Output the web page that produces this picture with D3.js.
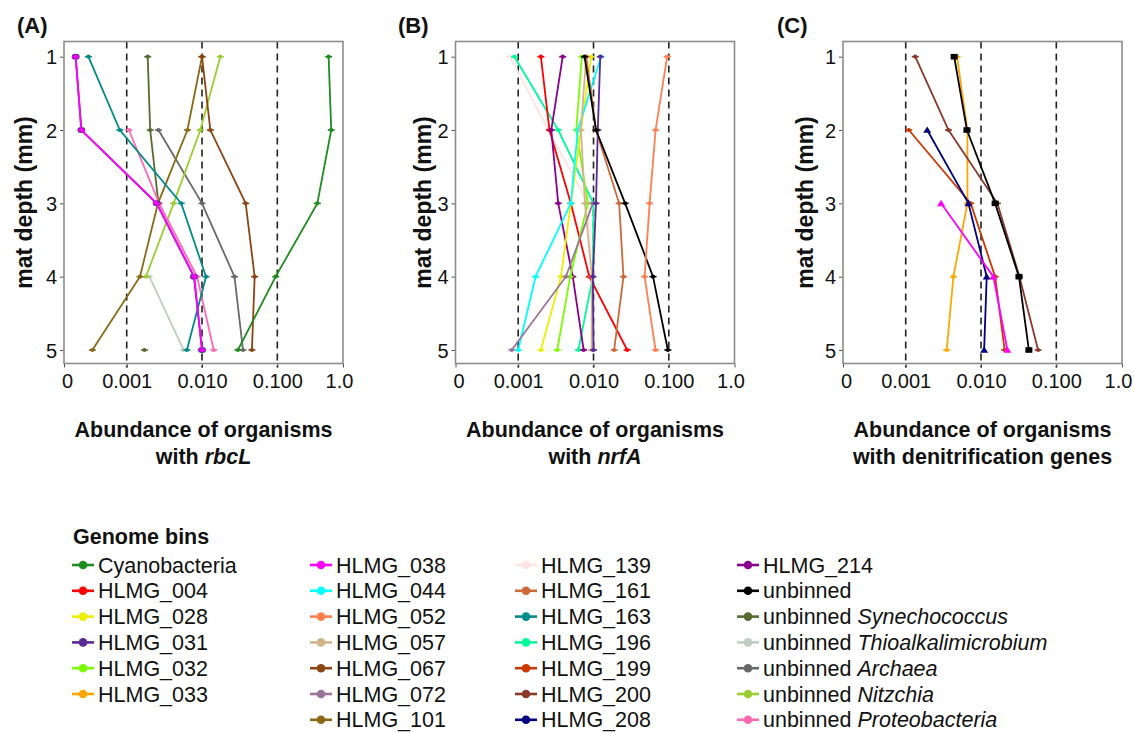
<!DOCTYPE html>
<html>
<head>
<meta charset="utf-8">
<script src="https://cdn.jsdelivr.net/npm/d3@7"></script>
<style>
  body { margin: 0; background: #fff; }
  text { font-family: Arial, "Liberation Sans", sans-serif; fill: #111; }
</style>
</head>
<body>
<div id="chart"></div>
<script>
// ---- data ----
var depths = [1, 2, 3, 4, 5];
var xTickVals = [1.47e-4, 0.001, 0.01, 0.1, 0.745];   // panel limits + guide decades
var xTickLabels = ["0", "0.001", "0.010", "0.100", "1.0"];
var guideVals = [0.001, 0.01, 0.1];

var binNames = ["Cyanobacteria", "HLMG_004", "HLMG_028", "HLMG_031", "HLMG_032", "HLMG_033",
  "HLMG_038", "HLMG_044", "HLMG_052", "HLMG_057", "HLMG_067", "HLMG_072", "HLMG_101",
  "HLMG_139", "HLMG_161", "HLMG_163", "HLMG_196", "HLMG_199", "HLMG_200", "HLMG_208",
  "HLMG_214", "unbinned", "unbinned Synechococcus", "unbinned Thioalkalimicrobium",
  "unbinned Archaea", "unbinned Nitzchia", "unbinned Proteobacteria"];
var binColors = ["#1e8c1e", "#ff0000", "#eeee00", "#5a2a96", "#7cfc00", "#ffa500",
  "#ff00ff", "#00ffff", "#ff7f50", "#d2b48c", "#8b4513", "#9a749a", "#8b6914",
  "#ffe4e1", "#cd6839", "#008b8b", "#00fa9a", "#cd3700", "#8b3a2a", "#000080",
  "#8b008b", "#000000", "#556b2f", "#c1cdc1", "#696969", "#9acd32", "#ff69b4"];

// panel A: rbcL
var rbcLBins = ["unbinned Thioalkalimicrobium", "unbinned Synechococcus", "unbinned Archaea",
  "unbinned Nitzchia", "unbinned Proteobacteria", "HLMG_101", "HLMG_067", "HLMG_163",
  "HLMG_031", "HLMG_038", "Cyanobacteria"];
var rbcLValues = [
  [null, null, null, 0.0020, 0.0057],
  [0.0019, 0.00205, 0.00264, null, 0.00172],
  [null, 0.00264, 0.0100, 0.027, 0.035],
  [0.0175, 0.0095, 0.0042, 0.0018, null],
  [null, 0.00107, 0.0027, 0.0086, 0.0143],
  [0.0100, 0.0064, 0.0026, 0.0015, 0.00035],
  [0.0100, 0.0129, 0.038, 0.050, 0.046],
  [0.00031, 0.00081, 0.0053, 0.0113, 0.0063],
  [0.00021, 0.00025, 0.0025, 0.0078, 0.0100],
  [0.00021, 0.00025, 0.0025, 0.0079, 0.0100],
  [0.48, 0.52, 0.34, 0.095, 0.030]
];

// panel B: nrfA
var nrfABins = ["HLMG_139", "HLMG_196", "HLMG_004", "HLMG_214", "HLMG_032", "HLMG_028",
  "HLMG_044", "HLMG_057", "HLMG_072", "HLMG_031", "HLMG_161", "unbinned", "HLMG_052"];
var nrfAValues = [
  [0.00078, 0.0025, 0.0085, 0.0095, 0.0093],
  [0.00089, 0.0034, 0.0100, 0.0098, 0.0063],
  [0.0020, 0.0026, 0.0050, 0.0088, 0.028],
  [0.0039, 0.00275, 0.0034, 0.0053, 0.0074],
  [0.0070, 0.0059, 0.0084, 0.0049, 0.0033],
  [0.0093, 0.0068, 0.0050, 0.0037, 0.0020],
  [0.0126, 0.0062, 0.0050, 0.0017, 0.0010],
  [0.0080, 0.0068, 0.0077, 0.0095, 0.0095],
  [null, null, 0.0098, 0.0043, 0.00082],
  [0.0123, 0.0114, 0.0108, 0.0098, 0.0100],
  [0.0080, 0.0108, 0.0219, 0.025, 0.0188],
  [0.0076, 0.0108, 0.0263, 0.0617, 0.097],
  [0.095, 0.0667, 0.0556, 0.0477, 0.0667]
];

// panel C: denitrification genes
var denitBins = ["HLMG_033", "HLMG_200", "HLMG_199", "HLMG_208", "HLMG_038", "unbinned"];
var denitValues = [
  [0.0048, 0.0066, 0.0066, 0.0043, 0.0035],
  [0.00134, 0.0037, 0.0165, 0.0324, 0.0573],
  [null, 0.0011, 0.0073, 0.0154, 0.0206],
  [null, 0.00193, 0.0068, 0.0119, 0.0110],
  [null, null, 0.00295, 0.0146, 0.0224],
  [0.0044, 0.0065, 0.0154, 0.0319, 0.0432]
];

// ---- layout ----
var W = 1134, H = 733;
var plotW = 279, plotTop = 41.5, plotH = 322;
var font = 'Arial, "Liberation Sans", sans-serif';

var panels = [
  {label: "(A)", bins: rbcLBins, values: rbcLValues, left: 64, labelX: 17, yTitleX: 32,
   title2: [["with ", false], ["rbcL", true]],
   shapes: {"HLMG_031": "ellipse"}},
  {label: "(B)", bins: nrfABins, values: nrfAValues, left: 455.5, labelX: 398, yTitleX: 431,
   title2: [["with ", false], ["nrfA", true]],
   shapes: {}},
  {label: "(C)", bins: denitBins, values: denitValues, left: 843, labelX: 777, yTitleX: 813,
   title2: [["with denitrification genes", false]],
   shapes: {"unbinned": "square", "HLMG_208": "triangle", "HLMG_038": "triangle"}}
];

var colorOf = d3.scaleOrdinal().domain(binNames).range(binColors);

var svg = d3.select("#chart").append("svg")
  .attr("width", W)
  .attr("height", H);
svg.append("rect").attr("width", W).attr("height", H).attr("fill", "#fff");

var x = d3.scaleLog().domain([xTickVals[0], xTickVals[4]]).range([0, plotW]);
var y = d3.scaleLinear().domain([1, 5]).range([15.2, 308.5]);

panels.forEach(function(p){
  var g = svg.append("g").attr("transform", "translate(" + p.left + "," + plotTop + ")");

  // axes
  var xAxis = g.append("g")
    .attr("transform", "translate(0," + plotH + ")")
    .call(d3.axisBottom(x).tickValues(xTickVals)
      .tickFormat(function(d, i){ return xTickLabels[i]; })
      .tickSize(4).tickPadding(6));
  xAxis.select(".domain").remove();
  xAxis.selectAll("line").attr("stroke", "#555");
  xAxis.selectAll("text").attr("font-size", 20).attr("font-family", font).attr("fill", "#111")
    .attr("dx", function(d, i){
      if(i == 0){return 3}
      else if(i == xTickVals.length - 1){return -4}
      else{return 0}
    });

  var yAxis = g.append("g")
    .call(d3.axisLeft(y).tickValues(depths).tickFormat(d3.format("d"))
      .tickSize(4).tickPadding(3));
  yAxis.select(".domain").remove();
  yAxis.selectAll("line").attr("stroke", "#555");
  yAxis.selectAll("text").attr("font-size", 20).attr("font-family", font).attr("fill", "#111")
    .attr("dy", "0.36em");

  // dashed decade guides
  g.selectAll(".guide")
    .data(guideVals)
    .enter()
    .append("line")
    .attr("x1", function(d){ return x(d); })
    .attr("x2", function(d){ return x(d); })
    .attr("y1", 0)
    .attr("y2", plotH + 4)
    .attr("stroke", "#222")
    .attr("stroke-width", 1.6)
    .attr("stroke-dasharray", "7,5");

  // frame
  g.append("rect")
    .attr("width", plotW)
    .attr("height", plotH)
    .attr("fill", "none")
    .attr("stroke", "#8c8c8c")
    .attr("stroke-width", 1.6);

  var line = d3.line()
    .defined(function(d){ return d.v != null; })
    .x(function(d){ return x(d.v); })
    .y(function(d){ return y(d.depth); });

  p.bins.forEach(function(bin, k){
    var pts = depths.map(function(dep, j){ return {depth: dep, v: p.values[k][j]}; });
    var col = colorOf(bin);
    g.append("path")
      .datum(pts)
      .attr("d", line)
      .attr("fill", "none")
      .attr("stroke", col)
      .attr("stroke-width", 1.8);

    var shape = p.shapes[bin] || "dash";
    var mk = g.selectAll(null)
      .data(pts.filter(function(d){ return d.v != null; }))
      .enter()
      .append("g")
      .attr("transform", function(d){ return "translate(" + x(d.v) + "," + y(d.depth) + ")"; });

    if(shape == "dash"){
      mk.append("line").attr("x1", -3.5).attr("x2", 3.5)
        .attr("stroke", col).attr("stroke-width", 1.6);
      mk.append("circle").attr("r", 2.1).attr("fill", col);
    }
    else if(shape == "ellipse"){
      mk.append("ellipse").attr("rx", 3.3).attr("ry", 2.3)
        .attr("fill", "#4a3ab0").attr("stroke", col).attr("stroke-width", 1.4);
    }
    else if(shape == "square"){
      mk.append("rect").attr("x", -3.5).attr("y", -2.8).attr("width", 7).attr("height", 5.6)
        .attr("fill", col);
    }
    else{
      mk.append("path").attr("d", "M-4,2.8L4,2.8L0,-3.5Z").attr("fill", col);
    }
  });

  // panel label
  svg.append("text")
    .attr("x", p.labelX)
    .attr("y", 33)
    .attr("font-size", 22)
    .attr("font-weight", "bold")
    .text(p.label);

  // y title
  svg.append("text")
    .attr("transform", "translate(" + p.yTitleX + "," + (plotTop + 161) + ") rotate(-90)")
    .attr("text-anchor", "middle")
    .attr("font-size", 23)
    .attr("font-weight", "bold")
    .text("mat depth (mm)");

  // x title
  var cx = p.left + plotW / 2;
  svg.append("text")
    .attr("x", cx)
    .attr("y", 437)
    .attr("text-anchor", "middle")
    .attr("font-size", 21.5)
    .attr("font-weight", "bold")
    .text("Abundance of organisms");
  var t2 = svg.append("text")
    .attr("x", cx)
    .attr("y", 464)
    .attr("text-anchor", "middle")
    .attr("font-size", 21.5)
    .attr("font-weight", "bold");
  p.title2.forEach(function(part){
    t2.append("tspan")
      .attr("font-style", part[1] ? "italic" : "normal")
      .text(part[0]);
  });
});

// ---- legend ----
var legend = svg.append("g");
legend.append("text")
  .attr("x", 73)
  .attr("y", 544)
  .attr("font-size", 21.5)
  .attr("font-weight", "bold")
  .text("Genome bins");

var colStarts = [0, 6, 13, 20];
var colX = [72, 310, 515, 737];
var rowY0 = 565, rowStep = 25.8;

binNames.forEach(function(name, i){
  var c = 0;
  for (var k = 0; k < colStarts.length; k++) {
    if (i >= colStarts[k]) { c = k; }
  }
  var r = i - colStarts[c];
  var gx = colX[c], gy = rowY0 + r * rowStep;
  var col = colorOf(name);
  legend.append("line")
    .attr("x1", gx).attr("x2", gx + 22)
    .attr("y1", gy).attr("y2", gy)
    .attr("stroke", col).attr("stroke-width", 2.6);
  legend.append("circle")
    .attr("cx", gx + 11).attr("cy", gy).attr("r", 4.3)
    .attr("fill", col);
  var t = legend.append("text")
    .attr("x", gx + 26)
    .attr("y", gy + 7.5)
    .attr("font-size", 21.5);
  if (name.indexOf("unbinned ") == 0) {
    t.append("tspan").text("unbinned ");
    t.append("tspan").attr("font-style", "italic").text(name.slice(9));
  }
  else {
    t.text(name);
  }
});
</script>
</body>
</html>
